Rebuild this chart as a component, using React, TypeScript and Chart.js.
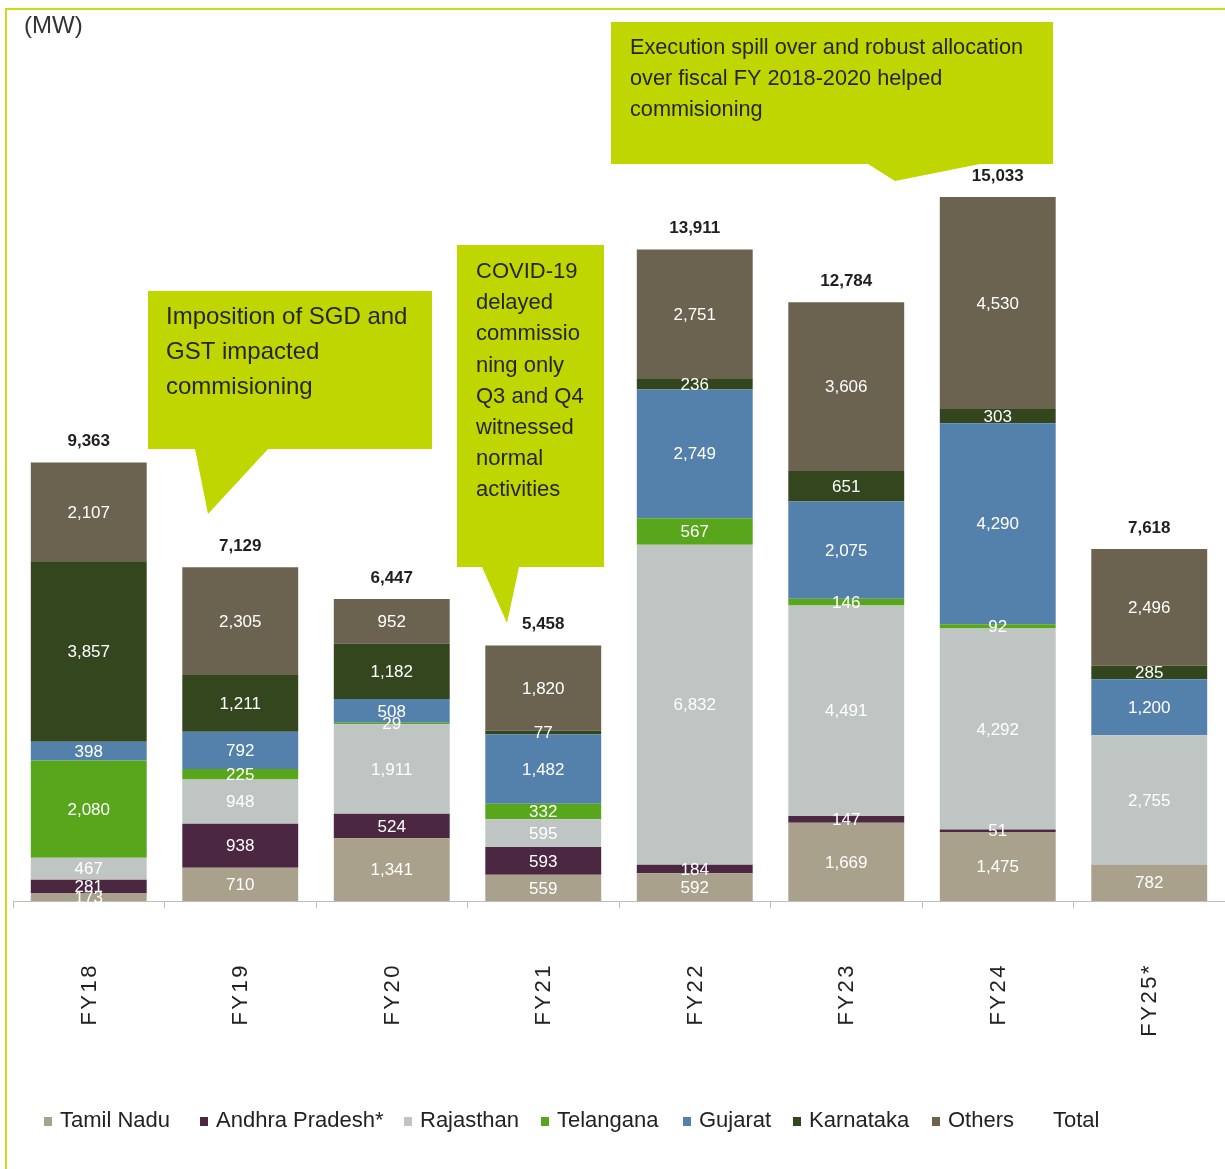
import React, { useEffect, useRef } from 'react';
import { Chart, registerables } from 'chart.js';

Chart.register(...registerables);

const categories = ['FY18', 'FY19', 'FY20', 'FY21', 'FY22', 'FY23', 'FY24', 'FY25*'];
const tamilNadu = [173, 710, 1341, 559, 592, 1669, 1475, 782];
const andhraPradesh = [281, 938, 524, 593, 184, 147, 51, 0];
const rajasthan = [467, 948, 1911, 595, 6832, 4491, 4292, 2755];
const telangana = [2080, 225, 29, 332, 567, 146, 92, 0];
const gujarat = [398, 792, 508, 1482, 2749, 2075, 4290, 1200];
const karnataka = [3857, 1211, 1182, 77, 236, 651, 303, 285];
const others = [2107, 2305, 952, 1820, 2751, 3606, 4530, 2496];
const totals = [9363, 7129, 6447, 5458, 13911, 12784, 15033, 7618];

const seriesNames = ['Tamil Nadu', 'Andhra Pradesh*', 'Rajasthan', 'Telangana', 'Gujarat', 'Karnataka', 'Others'];
const seriesValues = [tamilNadu, andhraPradesh, rajasthan, telangana, gujarat, karnataka, others];
const seriesColors = ['#A9A18B', '#4B2742', '#BFC5C3', '#58A61B', '#5381AC', '#33461E', '#6B6350'];
const totalLabel = 'Total';

const FONT = '"Liberation Sans", Arial, sans-serif';
const CALLOUT = '#BFD600';
const legendTextX = [60, 216, 420, 557, 699, 809, 948, 1053];

const callouts = [
  {
    path: [[148, 291], [432, 291], [432, 449], [268, 449], [208, 514], [195, 449], [148, 449]],
    x: 166, y0: 317, step: 35, size: 24,
    lines: ['Imposition of SGD and', 'GST impacted', 'commisioning'],
  },
  {
    path: [[457, 245], [604, 245], [604, 567], [519, 567], [507, 623], [482, 567], [457, 567]],
    x: 476, y0: 272, step: 31.2, size: 22,
    lines: ['COVID-19', 'delayed', 'commissio', 'ning only', 'Q3 and Q4', 'witnessed', 'normal', 'activities'],
  },
  {
    path: [[611, 22], [1053, 22], [1053, 164], [980, 164], [895, 181], [868, 164], [611, 164]],
    x: 630, y0: 48, step: 31, size: 21.7,
    lines: ['Execution spill over and robust allocation', 'over fiscal FY 2018-2020 helped', 'commisioning'],
  },
];

const fmt = (v: number) => v.toLocaleString('en-US');

const decor = {
  id: 'decor',
  afterDraw(chart: any) {
    const ctx = chart.ctx as CanvasRenderingContext2D;
    ctx.save();

    // frame lines
    ctx.strokeStyle = '#C8DE1A';
    ctx.lineWidth = 2;
    ctx.beginPath();
    ctx.moveTo(6, 1169);
    ctx.lineTo(6, 9);
    ctx.lineTo(1225, 9);
    ctx.stroke();

    // unit
    ctx.fillStyle = '#333';
    ctx.font = `24px ${FONT}`;
    ctx.textAlign = 'left';
    ctx.textBaseline = 'middle';
    ctx.fillText('(MW)', 24, 26);

    // segment labels
    ctx.font = `17px ${FONT}`;
    ctx.textAlign = 'center';
    ctx.fillStyle = '#FFFFFF';
    chart.data.datasets.forEach((ds: any, di: number) => {
      const meta = chart.getDatasetMeta(di);
      meta.data.forEach((bar: any, i: number) => {
        const v = ds.data[i];
        if (!v) return;
        ctx.fillText(fmt(v), bar.x, (bar.y + bar.base) / 2 + 1);
      });
    });

    // totals
    const last = chart.getDatasetMeta(chart.data.datasets.length - 1);
    ctx.font = `bold 17px ${FONT}`;
    ctx.fillStyle = '#1F1F1F';
    last.data.forEach((bar: any, i: number) => {
      ctx.fillText(fmt(totals[i]), bar.x, bar.y - 21);
    });

    // x labels
    const xs = chart.scales.x;
    ctx.font = `22px ${FONT}`;
    ctx.fillStyle = '#222';
    (ctx as any).letterSpacing = '2.5px';
    categories.forEach((c, i) => {
      const x = xs.getPixelForValue(i);
      ctx.save();
      ctx.translate(x + 1, 963);
      ctx.rotate(-Math.PI / 2);
      ctx.textAlign = 'right';
      ctx.textBaseline = 'middle';
      ctx.fillText(c, 0, 0);
      ctx.restore();
    });
    (ctx as any).letterSpacing = '0px';

    // legend
    ctx.font = `22px ${FONT}`;
    ctx.textAlign = 'left';
    ctx.textBaseline = 'middle';
    const ly = 1121;
    const items = chart.data.datasets.map((d: any) => ({ label: d.label, color: d.backgroundColor }));
    items.push({ label: totalLabel, color: 'rgba(0,0,0,0)' });
    items.forEach((it: any, k: number) => {
      const tx = legendTextX[k];
      ctx.fillStyle = it.color;
      ctx.fillRect(tx - 16, ly - 4, 8, 9);
      ctx.fillStyle = '#222';
      ctx.fillText(it.label, tx, ly);
    });

    // callouts
    callouts.forEach((c) => {
      ctx.fillStyle = CALLOUT;
      ctx.beginPath();
      c.path.forEach(([px, py], k) => (k === 0 ? ctx.moveTo(px, py) : ctx.lineTo(px, py)));
      ctx.closePath();
      ctx.fill();
      ctx.fillStyle = '#262626';
      ctx.font = `${c.size}px ${FONT}`;
      ctx.textAlign = 'left';
      ctx.textBaseline = 'middle';
      c.lines.forEach((t, k) => ctx.fillText(t, c.x, c.y0 + k * c.step));
    });

    ctx.restore();
  },
};

export default function App() {
  const ref = useRef<HTMLCanvasElement>(null);
  useEffect(() => {
    const canvas = ref.current;
    if (!canvas) return;
    const chart = new Chart(canvas, {
      type: 'bar',
      data: {
        labels: categories,
        datasets: seriesNames.map((name, i) => ({
          label: name,
          data: seriesValues[i],
          backgroundColor: seriesColors[i],
          borderWidth: 0,
          categoryPercentage: 1,
          barPercentage: 0.765,
        })),
      },
      options: {
        responsive: false,
        animation: false,
        layout: { padding: { left: 13, right: 0, top: 58, bottom: 0 } },
        plugins: { legend: { display: false }, tooltip: { enabled: false } },
        scales: {
          x: {
            stacked: true,
            grid: { display: true, drawOnChartArea: false, drawTicks: true, tickLength: 7, color: '#BDBDBD', offset: true },
            border: { display: true, color: '#BDBDBD', width: 1 },
            ticks: { display: false },
            afterFit: (s: any) => { s.height = 268; },
          },
          y: { stacked: true, display: false, min: 0, max: 18000 },
        },
      } as any,
      plugins: [decor],
    });
    return () => chart.destroy();
  }, []);
  return (
    <div style={{ position: 'absolute', left: 0, top: 0, width: 1225, height: 1169, background: '#fff' }}>
      <canvas ref={ref} width={1225} height={1169} style={{ display: 'block' }} />
    </div>
  );
}
